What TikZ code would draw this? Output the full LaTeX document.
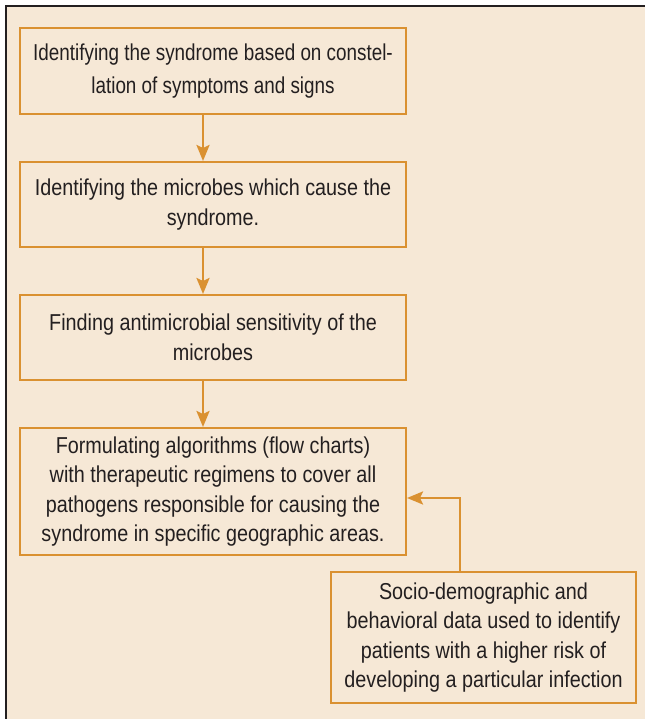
\documentclass[tikz,border=0pt]{standalone}
\usepackage{fontspec}
\setmainfont[FakeStretch=0.86]{Liberation Sans}
\newfontfamily\boxone[FakeStretch=0.82]{Liberation Sans}
\usetikzlibrary{arrows.meta}
\definecolor{bgc}{HTML}{F6E8D6}
\definecolor{orc}{HTML}{DA9131}
\definecolor{txc}{HTML}{231F20}
\tikzset{
  box/.style={draw=orc, line width=2pt, fill=bgc, text=txc, align=center,
    inner sep=0pt, font=\fontsize{23}{29.5}\selectfont},
  arr/.style={draw=orc, line width=2.6pt, -{Stealth[length=16pt,width=13pt,inset=3pt]}, color=orc},
  frame/.style={draw=txc, line width=1.6pt}
}
\begin{document}
\begin{tikzpicture}[x=1pt,y=1pt]
\useasboundingbox (0,0) rectangle (645,719);
\fill[bgc] (6,0) rectangle (645,713);
\draw[frame] (6,0) -- (6,713) -- (645,713);
\node[box, minimum width=386pt, minimum height=86pt, font=\boxone\fontsize{23}{33}\selectfont] (b1) at (213,648)
  {Identifying the syndrome based on constel-\\lation of symptoms and signs};
\node[box, minimum width=386pt, minimum height=85pt] (b2) at (213,514.5)
  {Identifying the microbes which cause the\\syndrome.};
\node[box, minimum width=386pt, minimum height=85pt] (b3) at (213,381.5)
  {Finding antimicrobial sensitivity of the\\microbes};
\node[box, minimum width=386pt, minimum height=127pt] (b4) at (213,227.5)
  {Formulating algorithms (flow charts)\\with therapeutic regimens to cover all\\pathogens responsible for causing the\\syndrome in specific geographic areas.};
\node[box, minimum width=305pt, minimum height=131pt] (b5) at (483.5,81.5)
  {Socio-demographic and\\behavioral data used to identify\\patients with a higher risk of\\developing a particular infection};
\coordinate (ax) at (203,0);
\coordinate (fx) at (460,221);
\draw[arr] (b1.south -| ax) -- (b2.north -| ax);
\draw[arr] (b2.south -| ax) -- (b3.north -| ax);
\draw[arr] (b3.south -| ax) -- (b4.north -| ax);
\draw[arr] (b5.north -| fx) -- (fx) -- (fx -| b4.east);
\end{tikzpicture}
\end{document}
